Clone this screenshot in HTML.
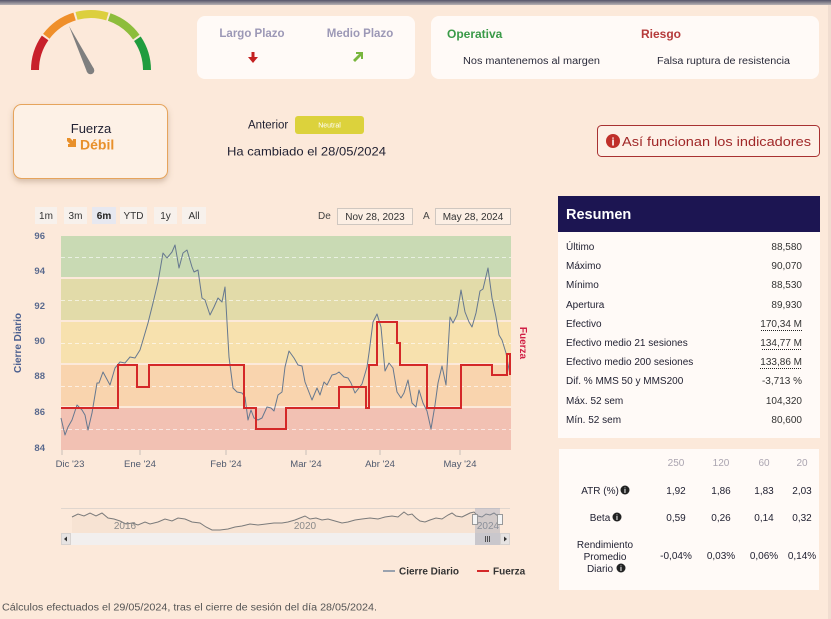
<!DOCTYPE html>
<html>
<head>
<meta charset="utf-8">
<style>
html,body{margin:0;padding:0;background:#fce9da;}
body{width:831px;height:619px;overflow:hidden;}
svg{display:block;font-family:"Liberation Sans",sans-serif;}
</style>
</head>
<body>
<svg width="831" height="619" viewBox="0 0 831 619" xmlns="http://www.w3.org/2000/svg">
<defs>
<linearGradient id="topbar" x1="0" y1="0" x2="0" y2="1">
<stop offset="0" stop-color="#55556a"/>
<stop offset="1" stop-color="#b9b3b5"/>
</linearGradient>
<filter id="sh" x="-10%" y="-10%" width="130%" height="140%">
<feDropShadow dx="0" dy="3" stdDeviation="3" flood-color="#8a6a50" flood-opacity="0.35"/>
</filter>
</defs>
<rect x="0" y="0" width="831" height="619" fill="#fce9da"/>
<rect x="0" y="0" width="831" height="5" fill="url(#topbar)"/>
<rect x="828" y="5" width="3" height="614" fill="#f0ddd0"/>

<!-- Gauge -->
<g fill="none" stroke-width="8">
<path d="M35,70 A56,56 0 0 1 45.1,37.9" stroke="#c8202a"/>
<path d="M46.3,36.3 A56,56 0 0 1 74.6,16.5" stroke="#ef8f2a"/>
<path d="M76.5,15.9 A56,56 0 0 1 107.4,16.5" stroke="#dccf3e"/>
<path d="M109.2,17.0 A56,56 0 0 1 136.3,37.1" stroke="#8dbd3c"/>
<path d="M137.4,38.7 A56,56 0 0 1 147,70" stroke="#1f9c3e"/>
</g>
<polygon points="94,69 87,72 69,26" fill="#7f7f7f"/>
<circle cx="90.5" cy="70.5" r="3.8" fill="#7f7f7f"/>

<!-- Card 1 -->
<rect x="197" y="16" width="218" height="63" rx="8" fill="#fffaf7"/>
<text x="252" y="37" text-anchor="middle" font-size="11.5" font-weight="bold" fill="#9c98b6">Largo Plazo</text>
<text x="360" y="37" text-anchor="middle" font-size="11.5" font-weight="bold" fill="#9c98b6">Medio Plazo</text>
<polygon points="251.5,52 254.5,52 254.5,57 258,57 253,63 248,57 251.5,57" fill="#c42020"/>
<polygon points="355,62 353,60 359,54 356,54 356,52 363,52 363,59 361,59 361,56" fill="#79b63e"/>

<!-- Card 2 -->
<rect x="431" y="16" width="388" height="63" rx="8" fill="#fffaf7"/>
<text x="447" y="38" font-size="12" font-weight="bold" fill="#3a9a48">Operativa</text>
<text x="641" y="38" font-size="12" font-weight="bold" fill="#b53a3a">Riesgo</text>
<text x="463" y="64" font-size="10" fill="#2a2a3a" textLength="137" lengthAdjust="spacingAndGlyphs">Nos mantenemos al margen</text>
<text x="657" y="64" font-size="10" fill="#2a2a3a" textLength="133" lengthAdjust="spacingAndGlyphs">Falsa ruptura de resistencia</text>

<!-- Fuerza card -->
<rect x="13.5" y="104.5" width="154" height="74" rx="8" fill="#fdf1e6" stroke="#e6a45c" stroke-width="1" filter="url(#sh)"/>
<text x="91" y="133" text-anchor="middle" font-size="13" fill="#222233">Fuerza</text>
<polygon points="67,138 70,138 73,141 73,139 76,139 76,147 68,147 68,144 70,144 67,141" fill="#e8902a"/>
<text x="80" y="149.5" font-size="14" font-weight="bold" fill="#e8902a">Débil</text>

<!-- Anterior -->
<text x="248" y="128.5" font-size="11.5" fill="#222233">Anterior</text>
<rect x="295" y="116" width="69" height="18" rx="3" fill="#dcd23c"/>
<text x="329.5" y="127.5" text-anchor="middle" font-size="7" fill="#ffffff">Neutral</text>
<text x="227" y="155.5" font-size="12" fill="#222233" textLength="159" lengthAdjust="spacingAndGlyphs">Ha cambiado el 28/05/2024</text>

<!-- Button -->
<rect x="597.5" y="125.5" width="222" height="31" rx="4" fill="#fdf0e6" stroke="#a83232" stroke-width="1"/>
<circle cx="613" cy="141" r="7" fill="#c0302a"/>
<text x="613" y="145.5" text-anchor="middle" font-size="11" font-weight="bold" fill="#ffffff">i</text>
<text x="622" y="146" font-size="13" fill="#a02828" textLength="189" lengthAdjust="spacingAndGlyphs">Así funcionan los indicadores</text>

<!-- Range buttons -->
<g font-size="10" fill="#333">
<rect x="35" y="207" width="22" height="17" fill="#f7f1ec"/>
<text x="46" y="219" text-anchor="middle">1m</text>
<rect x="64" y="207" width="23" height="17" fill="#f7f1ec"/>
<text x="75.5" y="219" text-anchor="middle">3m</text>
<rect x="92" y="207" width="24" height="17" fill="#e7e8f0"/>
<text x="104" y="219" text-anchor="middle" font-weight="bold" fill="#222">6m</text>
<rect x="120" y="207" width="27" height="17" fill="#f7f1ec"/>
<text x="133.5" y="219" text-anchor="middle">YTD</text>
<rect x="154" y="207" width="23" height="17" fill="#f7f1ec"/>
<text x="165.5" y="219" text-anchor="middle">1y</text>
<rect x="182" y="207" width="24" height="17" fill="#f7f1ec"/>
<text x="194" y="219" text-anchor="middle">All</text>
<text x="318" y="219" fill="#444">De</text>
<rect x="337.5" y="208.5" width="75" height="16" fill="#fcefe4" stroke="#cfc7c0"/>
<text x="375" y="220" text-anchor="middle">Nov 28, 2023</text>
<text x="423" y="219" fill="#444">A</text>
<rect x="435.5" y="208.5" width="75" height="16" fill="#fcefe4" stroke="#cfc7c0"/>
<text x="473" y="220" text-anchor="middle">May 28, 2024</text>
</g>

<!-- Bands -->
<rect x="61" y="236" width="450" height="41" fill="#c9dab4"/>
<rect x="61" y="279" width="450" height="41" fill="#e2dba9"/>
<rect x="61" y="322" width="450" height="41" fill="#f7e1ae"/>
<rect x="61" y="365" width="450" height="41" fill="#f9d4ae"/>
<rect x="61" y="408" width="450" height="42" fill="#f2c1b3"/>
<g stroke="#ffffff" stroke-opacity="0.6" stroke-dasharray="4,3" stroke-width="1">
<line x1="61" y1="257.5" x2="511" y2="257.5"/>
<line x1="61" y1="300.5" x2="511" y2="300.5"/>
<line x1="61" y1="343.5" x2="511" y2="343.5"/>
<line x1="61" y1="386.5" x2="511" y2="386.5"/>
<line x1="61" y1="429.5" x2="511" y2="429.5"/>
</g>

<!-- Y axis labels -->
<g font-size="9.5" font-weight="bold" fill="#5a6a8e" text-anchor="end">
<text x="45" y="239">96</text>
<text x="45" y="274">94</text>
<text x="45" y="309">92</text>
<text x="45" y="344">90</text>
<text x="45" y="379">88</text>
<text x="45" y="415">86</text>
<text x="45" y="451">84</text>
</g>
<text transform="translate(21,343) rotate(-90)" text-anchor="middle" font-size="10" font-weight="bold" fill="#4d6190">Cierre Diario</text>
<text transform="translate(520,343) rotate(90)" text-anchor="middle" font-size="10" font-weight="bold" fill="#d01f45">Fuerza</text>

<!-- X axis -->
<g stroke="#c9c0b8" stroke-width="1">
<line x1="62" y1="450" x2="62" y2="455"/>
<line x1="140" y1="450" x2="140" y2="455"/>
<line x1="226" y1="450" x2="226" y2="455"/>
<line x1="306" y1="450" x2="306" y2="455"/>
<line x1="380" y1="450" x2="380" y2="455"/>
<line x1="460" y1="450" x2="460" y2="455"/>
</g>
<g font-size="9.5" fill="#505a6e" text-anchor="middle">
<text x="70" y="467">Dic '23</text>
<text x="140" y="467">Ene '24</text>
<text x="226" y="467">Feb '24</text>
<text x="306" y="467">Mar '24</text>
<text x="380" y="467">Abr '24</text>
<text x="460" y="467">May '24</text>
</g>

<!-- Price line -->
<polyline fill="none" stroke="#66788f" stroke-width="1" stroke-linejoin="round" points="61,418 65,435 68,427 72,420 77,405 82,410 85,415 88,430 92,413 97,383 99,383 103,372 110,385 115,368 120,362 125,363 130,357 135,358 140,350 143,340 148,323 153,303 158,282 163,253 167,258 172,252 175,245 179,268 183,253 187,250 192,267 194,272 198,270 202,298 205,300 210,315 214,307 218,298 222,302 225,287 229,357 233,388 237,392 242,393 245,397 248,420 251,410 254,418 258,420 262,418 267,407 271,408 274,411 278,395 282,392 285,367 289,351 294,358 298,365 302,366 305,382 312,400 317,388 320,395 324,382 327,385 332,375 336,374 339,372 344,377 348,378 351,383 355,393 362,384 367,367 369,353 373,322 377,314 381,327 385,371 389,363 393,368 397,392 401,398 404,393 408,380 412,403 416,407 419,390 423,403 427,411 431,429 435,405 438,383 442,366 446,385 450,317 453,323 457,315 461,290 465,312 469,322 472,327 476,313 480,291 483,289 488,268 492,298 496,317 499,335 502,340 506,353 510,375"/>

<!-- Fuerza line -->
<path fill="none" stroke="#d42828" stroke-width="2" d="M61,408 H118 V365 H137 V387 H149 V365 H244 V408 H256 V429 H286 V408 H339 V387 H366 V408 H369 V365 H377 V322 H397 V343 H400 V365 H427 V408 H461 V365 H492 V375 H507 V354 H510 V375"/>

<!-- Navigator -->
<line x1="61" y1="508.5" x2="510" y2="508.5" stroke="#e0d6ce"/>
<path d="M72,517 L78,514 84,516 90,513 96,516 102,513 108,518 114,519 120,521 126,524 132,523 138,525 145,522 150,524 158,522 165,519 172,521 178,518 185,519 192,522 200,523 206,527 212,530 220,530 228,529 235,527 242,526 250,524 258,525 266,524 274,523 282,523 288,522 295,520 300,518 305,516 310,519 316,518 322,520 328,519 335,521 342,523 348,522 355,520 362,519 370,518 378,519 385,517 392,516 398,517 404,512 408,515 412,514 416,518 420,521 425,522 430,520 436,518 442,519 448,515 452,513 456,516 462,517 466,515 470,513 474,512 478,516 482,517 486,514 490,515 494,513 498,516 500,515 L500,533 L72,533 Z" fill="#f7e3d3" stroke="none"/>
<polyline fill="none" stroke="#7a7a7a" stroke-width="1" points="72,517 78,514 84,516 90,513 96,516 102,513 108,518 114,519 120,521 126,524 132,523 138,525 145,522 150,524 158,522 165,519 172,521 178,518 185,519 192,522 200,523 206,527 212,530 220,530 228,529 235,527 242,526 250,524 258,525 266,524 274,523 282,523 288,522 295,520 300,518 305,516 310,519 316,518 322,520 328,519 335,521 342,523 348,522 355,520 362,519 370,518 378,519 385,517 392,516 398,517 404,512 408,515 412,514 416,518 420,521 425,522 430,520 436,518 442,519 448,515 452,513 456,516 462,517 466,515 470,513 474,512 478,516 482,517 486,514 490,515 494,513 498,516 500,515"/>
<g font-size="10" fill="#8a8a8a" text-anchor="middle">
<text x="125" y="529">2016</text>
<text x="305" y="529">2020</text>
<text x="488" y="529">2024</text>
</g>
<rect x="61" y="533" width="449" height="12" fill="#f2efee"/>
<rect x="61.5" y="533.5" width="9" height="11" fill="#e6e3e2" stroke="#d6d2d0"/>
<polygon points="67,536.5 67,541.5 64,539" fill="#333"/>
<rect x="475" y="508" width="25" height="37" fill="#8d9ab8" fill-opacity="0.35"/>
<rect x="475" y="533" width="25" height="12" fill="#c9c7cc"/>
<g stroke="#333" stroke-width="0.8">
<line x1="485.5" y1="536" x2="485.5" y2="542"/>
<line x1="487.5" y1="536" x2="487.5" y2="542"/>
<line x1="489.5" y1="536" x2="489.5" y2="542"/>
</g>
<rect x="500.5" y="533.5" width="9" height="11" fill="#e6e3e2" stroke="#d6d2d0"/>
<polygon points="504,536.5 504,541.5 507,539" fill="#333"/>
<rect x="472.5" y="514.5" width="5" height="10" fill="#f4f4f4" stroke="#999"/>
<rect x="497.5" y="514.5" width="5" height="10" fill="#f4f4f4" stroke="#999"/>

<!-- Legend -->
<line x1="383" y1="571" x2="395" y2="571" stroke="#7a8aa0" stroke-width="1.5"/>
<text x="399" y="574.5" font-size="10" font-weight="bold" fill="#333">Cierre Diario</text>
<line x1="477" y1="571" x2="489" y2="571" stroke="#d42828" stroke-width="2"/>
<text x="493" y="574.5" font-size="10" font-weight="bold" fill="#333">Fuerza</text>

<!-- Footer -->
<text x="2" y="610.5" font-size="10" fill="#555" textLength="375" lengthAdjust="spacingAndGlyphs">Cálculos efectuados el 29/05/2024, tras el cierre de sesión del día 28/05/2024.</text>

<!-- Resumen -->
<rect x="558" y="196" width="262" height="36" fill="#1c1552"/>
<text x="566" y="219" font-size="14.5" font-weight="bold" fill="#ffffff">Resumen</text>
<rect x="558" y="232" width="262" height="206" fill="#fffaf7"/>
<g font-size="10" fill="#222233">
<text x="566" y="250">Último</text>
<text x="566" y="269">Máximo</text>
<text x="566" y="288">Mínimo</text>
<text x="566" y="308">Apertura</text>
<text x="566" y="327">Efectivo</text>
<text x="566" y="346">Efectivo medio 21 sesiones</text>
<text x="566" y="365">Efectivo medio 200 sesiones</text>
<text x="566" y="384">Dif. % MMS 50 y MMS200</text>
<text x="566" y="404">Máx. 52 sem</text>
<text x="566" y="423">Mín. 52 sem</text>
</g>
<g font-size="10" fill="#333" text-anchor="end">
<text x="802" y="250">88,580</text>
<text x="802" y="269">90,070</text>
<text x="802" y="288">88,530</text>
<text x="802" y="308">89,930</text>
<text x="802" y="327">170,34 M</text>
<text x="802" y="346">134,77 M</text>
<text x="802" y="365">133,86 M</text>
<text x="802" y="384">-3,713 %</text>
<text x="802" y="404">104,320</text>
<text x="802" y="423">80,600</text>
</g>
<g stroke="#222" stroke-width="1" stroke-dasharray="1,1">
<line x1="761" y1="330.5" x2="802" y2="330.5"/>
<line x1="762" y1="349.5" x2="802" y2="349.5"/>
<line x1="760" y1="368.5" x2="802" y2="368.5"/>
</g>

<!-- Table 2 -->
<rect x="559" y="449" width="260" height="141" fill="#fffaf7"/>
<g font-size="10" fill="#aaa4b0" text-anchor="middle">
<text x="676" y="466">250</text>
<text x="721" y="466">120</text>
<text x="764" y="466">60</text>
<text x="802" y="466">20</text>
</g>
<g font-size="10" fill="#222233" text-anchor="middle">
<text x="600" y="494">ATR (%)</text>
<text x="600" y="521">Beta</text>
<text x="605" y="548">Rendimiento</text>
<text x="605" y="560">Promedio</text>
<text x="600" y="572">Diario</text>
<text x="676" y="494">1,92</text>
<text x="721" y="494">1,86</text>
<text x="764" y="494">1,83</text>
<text x="802" y="494">2,03</text>
<text x="676" y="521">0,59</text>
<text x="721" y="521">0,26</text>
<text x="764" y="521">0,14</text>
<text x="802" y="521">0,32</text>
<text x="676" y="559">-0,04%</text>
<text x="721" y="559">0,03%</text>
<text x="764" y="559">0,06%</text>
<text x="802" y="559">0,14%</text>
</g>
<g>
<circle cx="625" cy="490" r="4.5" fill="#222"/>
<text x="625" y="493" text-anchor="middle" font-size="7" font-weight="bold" fill="#fff">i</text>
<circle cx="617" cy="517" r="4.5" fill="#222"/>
<text x="617" y="520" text-anchor="middle" font-size="7" font-weight="bold" fill="#fff">i</text>
<circle cx="621" cy="568" r="4.5" fill="#222"/>
<text x="621" y="571" text-anchor="middle" font-size="7" font-weight="bold" fill="#fff">i</text>
</g>
</svg>
</body>
</html>
